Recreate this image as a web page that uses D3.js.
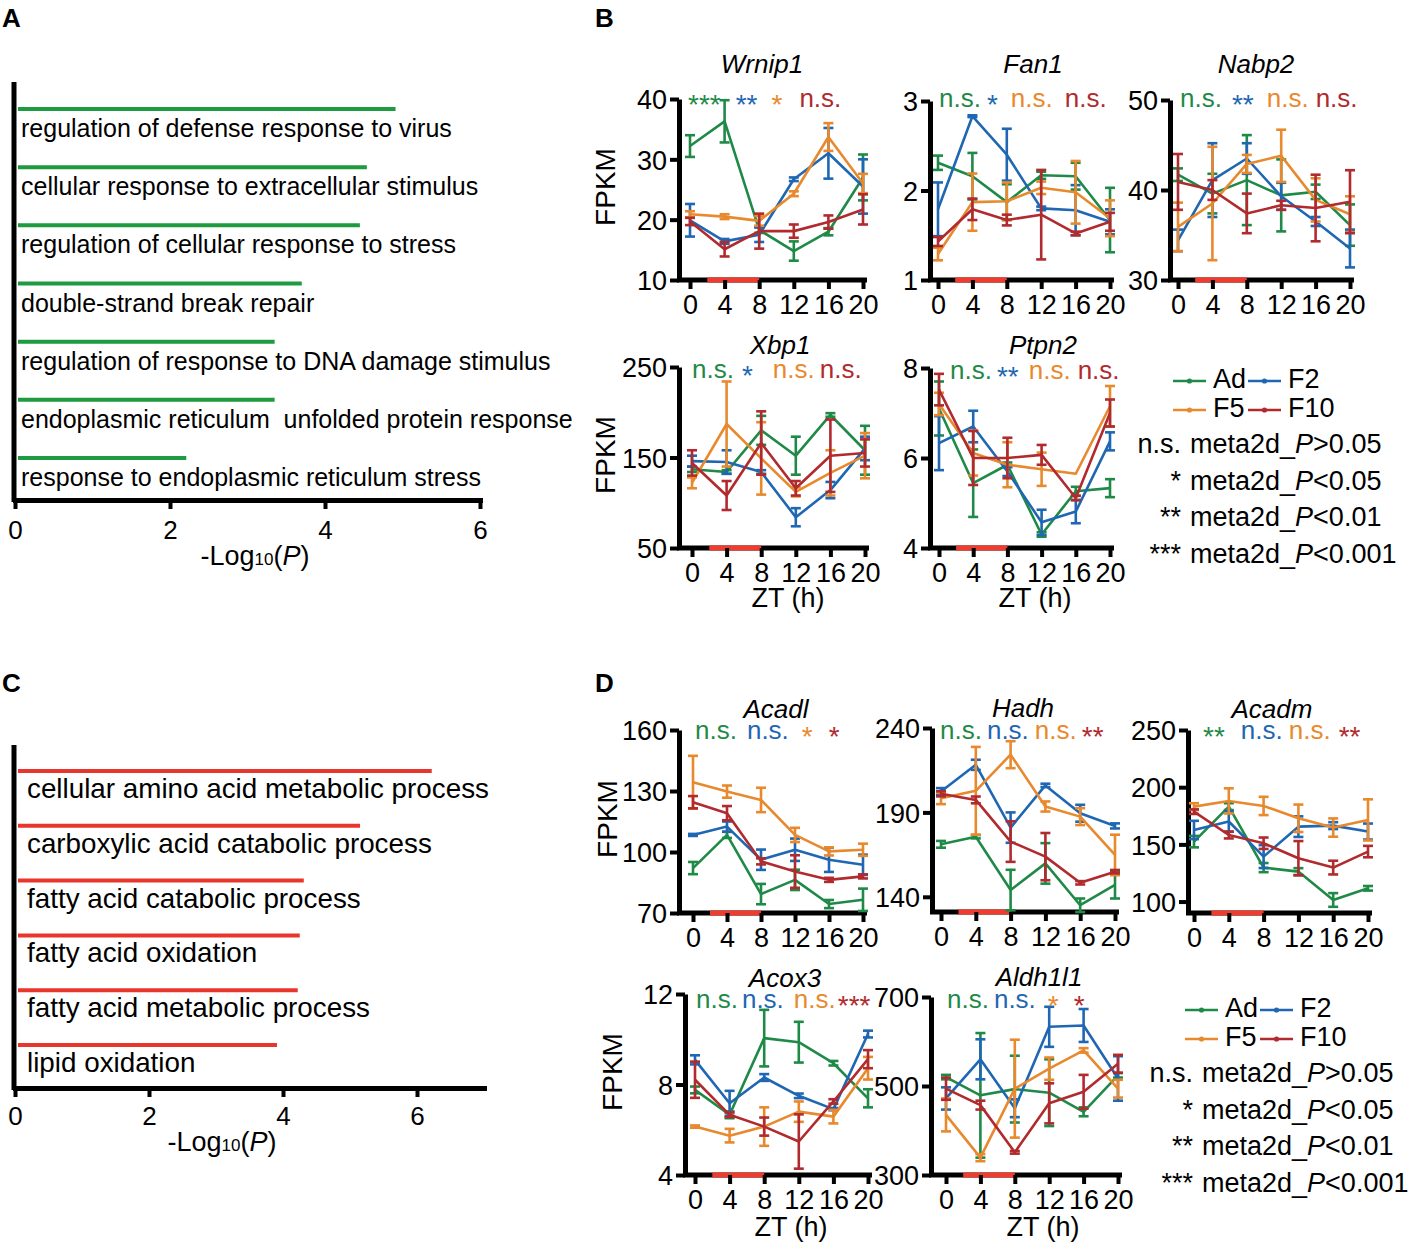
<!DOCTYPE html>
<html><head><meta charset="utf-8">
<script src="https://cdn.jsdelivr.net/npm/d3@7"></script>
<style>
body{margin:0;background:#fff}
svg{display:block}
text{font-family:"Liberation Sans",Arial,sans-serif;fill:#000}
</style>
</head><body>
<svg id="fig" width="1414" height="1246"></svg>
<script>
// ---------------- DATA ----------------
const goTermsA = ["regulation of defense response to virus","cellular response to extracellular stimulus","regulation of cellular response to stress","double-strand break repair","regulation of response to DNA damage stimulus","endoplasmic reticulum  unfolded protein response","response to endoplasmic reticulum stress"];
const goValuesA = [4.91, 4.54, 4.45, 3.70, 3.35, 3.35, 2.21];
const goTicksA = [0, 2, 4, 6];

const goTermsC = ["cellular amino acid metabolic process","carboxylic acid catabolic process","fatty acid catabolic process","fatty acid oxidation","fatty acid metabolic process","lipid oxidation"];
const goValuesC = [6.22, 5.15, 4.31, 4.25, 4.22, 3.91];
const goTicksC = [0, 2, 4, 6];

const timePoints = [0, 4, 8, 12, 16, 20];
const groups = ["Ad", "F2", "F5", "F10"];
const groupColors = ["#1f8a47", "#1f67b2", "#e8892e", "#b02a2e"];
const lightPhase = [2, 8];

// rows: Ad, F2, F5, F10
const wrnip1Mean = [[32.2,36.3,18.3,14.8,18.0,27.0],[19.9,16.4,17.5,26.7,31.0,25.5],[20.9,20.5,19.8,24.3,33.7,26.0],[19.7,15.1,18.1,18.1,19.6,21.7]];
const wrnip1Err  = [[1.8,3.5,0.5,1.6,0.6,3.8],[2.7,0.4,1.2,0.3,4.2,4.5],[0.5,0.4,0.8,0.4,2.3,1.6],[0.6,1.2,2.9,1.1,1.1,2.5]];
const wrnip1Ticks = [10,20,30,40], wrnip1Domain = [10,40];
const wrnip1Sig = ["***","**","*","n.s."];

const fan1Mean = [[2.31,2.16,1.87,2.17,2.16,1.67],[1.79,2.83,2.40,1.80,1.78,1.65],[1.29,1.87,1.88,2.03,1.98,1.69],[1.43,1.79,1.67,1.73,1.52,1.65]];
const fan1Err  = [[0.08,0.26,0.2,0.04,0.15,0.36],[0.3,0.01,0.29,0.02,0.28,0.14],[0.07,0.32,0.21,0.07,0.35,0.2],[0.05,0.12,0.06,0.5,0.02,0.1]];
const fan1Ticks = [1,2,3], fan1Domain = [1,3];
const fan1Sig = ["n.s.","*","n.s.","n.s."];

const nabp2Mean = [[41.7,39.6,41.1,39.4,39.8,36.1],[34.4,41.1,43.5,39.3,36.5,33.5],[35.9,38.5,42.9,43.8,38.9,37.3],[40.9,40.0,37.4,38.3,38.0,38.7]];
const nabp2Err  = [[0.7,2.2,5.0,4.0,0.8,2.3],[1.2,4.1,1.7,1.5,0.5,2.1],[2.7,6.3,1.0,2.9,2.4,2.0],[3.1,1.1,2.2,0.5,3.7,3.5]];
const nabp2Ticks = [30,40,50], nabp2Domain = [30,50];
const nabp2Sig = ["n.s.","**","n.s.","n.s."];

const xbp1Mean = [[137,134,180,152,197,158],[146,145,134,84,114,160],[122,187,149,112,133,152],[144,108,166,116,152,155]];
const xbp1Err  = [[3,2,16,21,2,27],[6,13,2,10,9,13],[6,47,40,5,25,25],[14,16,35,8,40,15]];
const xbp1Ticks = [50,150,250], xbp1Domain = [50,250];
const xbp1Sig = ["n.s.","*","n.s.","n.s."];

const ptpn2Mean = [[7.1,5.44,5.85,4.3,5.26,5.33],[6.33,6.7,5.7,4.57,4.81,6.37],[7.2,6.11,5.85,5.75,5.65,7.15],[7.52,6.0,6.0,6.07,5.11,7.0]];
const ptpn2Err  = [[0.6,0.75,0.05,0.05,0.1,0.2],[0.6,0.35,0.1,0.28,0.26,0.2],[0.25,0.5,0.5,0.37,0,0.45],[0.35,0.6,0.45,0.22,0.05,0.3]];
const ptpn2Ticks = [4,6,8], ptpn2Domain = [4,8];
const ptpn2Sig = ["n.s.","**","n.s.","n.s."];

const acadlMean = [[92.1,108.4,79.3,86.3,74.4,76.5],[108.4,112.5,96.2,101.1,96.2,93.7],[134.3,129.7,125.6,108.4,100.3,101.1],[124.5,119.1,95.4,90.4,86.3,88.0]];
const acadlErr  = [[3,1.5,5,5,2,5.5],[0.5,2.5,5,5.5,6,5],[13,3,6,3.5,2,3],[3,3.5,1.5,8,1,1]];
const acadlTicks = [70,100,130,160], acadlDomain = [70,160];
const acadlSig = ["n.s.","n.s.","*","*"];

const hadhMean = [[171.1,175.6,144,159.8,135,147],[202.4,218.2,181,206,189.5,182],[198.4,202.8,224.2,193.5,187.5,164.8],[201,197.4,172.7,163.8,148.3,154.9]];
const hadhErr  = [[2,1,12,12,4,8],[2,3,9,1,5,1.5],[3.5,26,8,3,5,12],[1.5,2,12,14,1,1]];
const hadhTicks = [140,190,240], hadhDomain = [131,240];
const hadhSig = ["n.s.","n.s.","n.s.","**"];

const acadmMean = [[152.4,183,129.7,126.2,101.4,111.6],[162.6,170,139.3,165.5,166.4,161.2],[183,188,183.6,172.8,164.7,171.4],[178.6,158.2,151,137.9,129.7,143.7]];
const acadmErr  = [[5,3,4,3,6,2],[8,9,10,9,3,7],[3,11,8,12,8,18],[2,3,5,15,6,5]];
const acadmTicks = [100,150,200,250], acadmDomain = [90,250];
const acadmSig = ["**","n.s.","n.s.","**"];

const acox3Mean = [[7.76,6.66,10.05,9.87,8.94,7.39],[9.09,7.17,8.31,7.5,6.91,10.23],[6.14,5.74,6.14,6.8,6.58,8.72],[8.21,6.66,6.14,5.48,7.25,9.12]];
const acox3Err  = [[0.15,0.15,1.25,0.9,0.1,0.4],[0.2,0.55,0.15,0.1,0.05,0.15],[0.05,0.3,0.85,0.45,0.3,0.5],[0.8,0.1,0.4,1.2,0.1,0.4]];
const acox3Ticks = [4,8,12], acox3Domain = [4,12];
const acox3Sig = ["n.s.","n.s.","n.s.","***"];

const aldh1l1Mean = [[520,479,493,485,442,524],[472,560,450,633,636,517],[435,339,494,539,580,494],[494,457,351,461,487,550]];
const aldh1l1Err  = [[5,140,75,75,10,5],[25,45,20,45,37,50],[37,8,110,25,5,20],[25,10,3,45,38,20]];
const aldh1l1Ticks = [300,500,700], aldh1l1Domain = [300,700];
const aldh1l1Sig = ["n.s.","n.s.","*","*"];

const statPrefixes = ["n.s.", "*", "**", "***"];
const statSuffixes = [">0.05", "<0.05", "<0.01", "<0.001"];

// ---------------- LAYOUT ----------------
const FONT = '"Liberation Sans", Arial, sans-serif';
const svg = d3.select("#fig");
const fmt = d3.format("d");

const charts = [
  {gene:"Wrnip1", mean:wrnip1Mean, err:wrnip1Err, ticks:wrnip1Ticks, domain:wrnip1Domain, sig:wrnip1Sig,
   L:{axisX:679,x0:690,x20:863,yTop:99,yBot:280,titleX:762,titleY:73,sigX:688,sigY:107,sigGaps:[15,14,17]}},
  {gene:"Fan1", mean:fan1Mean, err:fan1Err, ticks:fan1Ticks, domain:fan1Domain, sig:fan1Sig,
   L:{axisX:930,x0:938,x20:1110,yTop:101,yBot:280,titleX:1033,titleY:73,sigX:939,sigY:107,sigGaps:[6,13,12]}},
  {gene:"Nabp2", mean:nabp2Mean, err:nabp2Err, ticks:nabp2Ticks, domain:nabp2Domain, sig:nabp2Sig,
   L:{axisX:1170,x0:1178,x20:1350,yTop:100,yBot:280,titleX:1256,titleY:73,sigX:1180,sigY:107,sigGaps:[10,13,7]}},
  {gene:"Xbp1", mean:xbp1Mean, err:xbp1Err, ticks:xbp1Ticks, domain:xbp1Domain, sig:xbp1Sig,
   L:{axisX:679,x0:692,x20:865,yTop:367,yBot:548,titleX:780,titleY:354,sigX:692,sigY:378,sigGaps:[8,20,5]}},
  {gene:"Ptpn2", mean:ptpn2Mean, err:ptpn2Err, ticks:ptpn2Ticks, domain:ptpn2Domain, sig:ptpn2Sig,
   L:{axisX:930,x0:939,x20:1110,yTop:368,yBot:548,titleX:1043,titleY:354,sigX:950,sigY:379,sigGaps:[5,10,7]}},
  {gene:"Acadl", mean:acadlMean, err:acadlErr, ticks:acadlTicks, domain:acadlDomain, sig:acadlSig,
   L:{axisX:679,x0:693,x20:863,yTop:730,yBot:913,titleX:776,titleY:718,sigX:695,sigY:739,sigGaps:[10,13,16]}},
  {gene:"Hadh", mean:hadhMean, err:hadhErr, ticks:hadhTicks, domain:hadhDomain, sig:hadhSig,
   L:{axisX:932,x0:941,x20:1115,yTop:728,yBot:912,titleX:1023,titleY:717,sigX:940,sigY:739,sigGaps:[5,6,5]}},
  {gene:"Acadm", mean:acadmMean, err:acadmErr, ticks:acadmTicks, domain:acadmDomain, sig:acadmSig,
   L:{axisX:1188,x0:1194,x20:1368,yTop:730,yBot:913,titleX:1272,titleY:718,sigX:1203,sigY:739,sigGaps:[16,6,8]}},
  {gene:"Acox3", mean:acox3Mean, err:acox3Err, ticks:acox3Ticks, domain:acox3Domain, sig:acox3Sig,
   L:{axisX:685,x0:695,x20:868,yTop:994,yBot:1175,titleX:785,titleY:987,sigX:696,sigY:1008,sigGaps:[4,10,2]}},
  {gene:"Aldh1l1", mean:aldh1l1Mean, err:aldh1l1Err, ticks:aldh1l1Ticks, domain:aldh1l1Domain, sig:aldh1l1Sig,
   L:{axisX:931,x0:946,x20:1118,yTop:997,yBot:1175,titleX:1039,titleY:986,sigX:947,sigY:1008,sigGaps:[5,12,15]}}
];

const yLabels = [{x:615,y:187},{x:615,y:455},{x:617,y:819},{x:622,y:1072}];
const ztLabels = [{x:788,y:607},{x:1035,y:607},{x:791,y:1236},{x:1043,y:1236}];
const panelLetters = [{t:"A",x:2,y:27},{t:"B",x:595,y:27},{t:"C",x:2,y:692},{t:"D",x:595,y:692}];

// ---------------- PANEL LETTERS ----------------
panelLetters.forEach(p => svg.append("text").attr("x",p.x).attr("y",p.y)
  .attr("font-size",26).attr("font-weight","bold").text(p.t));

// ---------------- BAR PANELS (A, C) ----------------
function drawGO(terms, values, ticks, cfg) {
  const g = svg.append("g");
  const x = d3.scaleLinear().domain(cfg.domain).range(cfg.xRange);
  const y = d3.scalePoint().domain(terms).range(cfg.yRange);
  g.append("line").attr("x1",cfg.axisX).attr("x2",cfg.axisX).attr("y1",cfg.yAxisTop).attr("y2",cfg.xAxisY+2)
    .attr("stroke","#000").attr("stroke-width",5);
  const ax = d3.axisBottom(x).tickValues(ticks).tickFormat(fmt).tickSize(9).tickSizeOuter(0).tickPadding(cfg.tickPad);
  const gx = g.append("g").attr("transform",`translate(0,${cfg.xAxisY})`).call(ax);
  gx.attr("font-family",FONT).attr("font-size",cfg.tickFont);
  gx.select(".domain").attr("stroke-width",5).attr("stroke-linecap","square");
  gx.selectAll(".tick line").attr("stroke-width",4);
  gx.selectAll(".tick text").attr("fill","#000");
  g.selectAll(".bar").data(terms).enter().append("line")
    .attr("x1",x(0)+3).attr("x2",(d,i)=>x(values[i]))
    .attr("y1",d=>y(d)).attr("y2",d=>y(d))
    .attr("stroke",cfg.color).attr("stroke-width",4);
  g.selectAll(".lbl").data(terms).enter().append("text")
    .attr("x",cfg.labelX).attr("y",d=>y(d)+cfg.labelDy)
    .attr("font-size",cfg.labelFont).attr("xml:space","preserve").style("white-space","pre").text(d=>d);
  const t = g.append("text").attr("x",cfg.titleX).attr("y",cfg.titleY).attr("text-anchor","middle").attr("font-size",27);
  t.append("tspan").text("-Log");
  t.append("tspan").attr("font-size",17).text("10");
  t.append("tspan").text("(");
  t.append("tspan").attr("font-style","italic").text("P");
  t.append("tspan").text(")");
}

drawGO(goTermsA, goValuesA, goTicksA, {domain:[0,6], xRange:[15,480], yRange:[109,458], axisX:14, yAxisTop:82,
  xAxisY:500, tickPad:12, tickFont:26, color:"#1e9a3f", labelX:21, labelDy:28, labelFont:25, titleX:255, titleY:565});
drawGO(goTermsC, goValuesC, goTicksC, {domain:[0,7], xRange:[15,484], yRange:[771,1045], axisX:14, yAxisTop:745,
  xAxisY:1088, tickPad:10, tickFont:26, color:"#e9362c", labelX:27, labelDy:27, labelFont:27.8, titleX:222, titleY:1151});

// ---------------- LINE CHARTS ----------------
function drawChart(c) {
  const L = c.L;
  const g = svg.append("g");
  const x = d3.scaleLinear().domain([0,20]).range([L.x0, L.x20]);
  const y = d3.scaleLinear().domain(c.domain).range([L.yBot, L.yTop]);

  g.append("line").attr("x1",L.axisX-2).attr("x2",x(20)+4).attr("y1",L.yBot).attr("y2",L.yBot)
    .attr("stroke","#000").attr("stroke-width",5);
  g.append("line").attr("x1",x(lightPhase[0])).attr("x2",x(lightPhase[1])).attr("y1",L.yBot).attr("y2",L.yBot)
    .attr("stroke","#f03c2e").attr("stroke-width",5);
  const xa = d3.axisBottom(x).tickValues(timePoints).tickFormat(fmt).tickSize(9).tickSizeOuter(0).tickPadding(6);
  const gx = g.append("g").attr("transform",`translate(0,${L.yBot})`).call(xa);
  gx.select(".domain").remove();
  gx.attr("font-family",FONT).attr("font-size",27);
  gx.selectAll(".tick line").attr("stroke-width",4);
  gx.selectAll(".tick text").attr("fill","#000");

  const ya = d3.axisLeft(y).tickValues(c.ticks).tickFormat(fmt).tickSize(9).tickSizeOuter(0).tickPadding(3);
  const gy = g.append("g").attr("transform",`translate(${L.axisX},0)`).call(ya);
  gy.attr("font-family",FONT).attr("font-size",27);
  gy.select(".domain").attr("stroke-width",5);
  gy.selectAll(".tick line").attr("stroke-width",4);
  gy.selectAll(".tick text").attr("fill","#000").attr("dy","0.36em");

  const line = d3.line().x((d,i)=>x(timePoints[i])).y(d=>y(d));
  groups.forEach((grp, gi) => {
    const col = groupColors[gi];
    const s = g.append("g");
    s.append("path").attr("d", line(c.mean[gi])).attr("fill","none").attr("stroke",col)
      .attr("stroke-width",2.6).attr("stroke-linejoin","round");
    c.mean[gi].forEach((m, i) => {
      const e = c.err[gi][i];
      if (e <= 0) return;
      const xx = x(timePoints[i]);
      s.append("line").attr("x1",xx).attr("x2",xx).attr("y1",y(m-e)).attr("y2",y(m+e)).attr("stroke",col).attr("stroke-width",2.6);
      [m-e, m+e].forEach(v => s.append("line").attr("x1",xx-5).attr("x2",xx+5).attr("y1",y(v)).attr("y2",y(v))
        .attr("stroke",col).attr("stroke-width",2.6));
    });
  });

  g.append("text").attr("x",L.titleX).attr("y",L.titleY).attr("text-anchor","middle")
    .attr("font-size",26).attr("font-style","italic").text(c.gene);

  let cx = L.sigX;
  c.sig.forEach((s, i) => {
    const isStar = s.indexOf("*") === 0;
    const t = g.append("text").attr("x",cx).attr("y",L.sigY + (isStar ? 7 : 0))
      .attr("font-size",isStar ? 28 : 26).style("fill",groupColors[i]).text(s);
    cx += t.node().getComputedTextLength() + (L.sigGaps[i] || 0);
  });
}
charts.forEach(drawChart);

yLabels.forEach(p => svg.append("text").attr("transform",`translate(${p.x},${p.y}) rotate(-90)`)
  .attr("text-anchor","middle").attr("font-size",28).text("FPKM"));
ztLabels.forEach(p => svg.append("text").attr("x",p.x).attr("y",p.y)
  .attr("text-anchor","middle").attr("font-size",27).text("ZT (h)"));

// ---------------- LEGENDS ----------------
function drawLegend(dx, dy) {
  const g = svg.append("g").attr("transform",`translate(${dx},${dy})`);
  groups.forEach((grp, i) => {
    const col = i % 2, row = Math.floor(i / 2);
    const lx = 1173 + col * 75, ly = 381 + row * 29;
    g.append("line").attr("x1",lx).attr("x2",lx+33).attr("y1",ly).attr("y2",ly)
      .attr("stroke",groupColors[i]).attr("stroke-width",2.6);
    g.append("circle").attr("cx",lx+16.5).attr("cy",ly).attr("r",2.6).attr("fill",groupColors[i]);
    g.append("text").attr("x",lx+40).attr("y",ly+7).attr("font-size",27).text(grp);
  });
  statPrefixes.forEach((p, i) => {
    const by = 453 + i * 36.7;
    g.append("text").attr("x",1181).attr("y",by).attr("text-anchor","end").attr("font-size",27).text(p);
    const t = g.append("text").attr("x",1190).attr("y",by).attr("font-size",27);
    t.append("tspan").text("meta2d_");
    t.append("tspan").attr("font-style","italic").text("P");
    t.append("tspan").text(statSuffixes[i]);
  });
}
drawLegend(0, 0);
drawLegend(12, 629);
</script>
</body></html>
